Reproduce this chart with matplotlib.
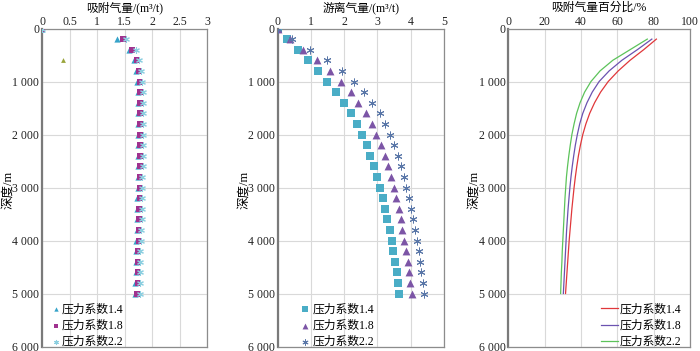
import matplotlib
matplotlib.use("Agg")
import matplotlib.pyplot as plt
from matplotlib.ticker import FuncFormatter, MultipleLocator

plt.rcParams['font.family'] = ['Liberation Serif', 'Noto Sans CJK SC', 'DejaVu Sans']

# ---------------- data ----------------
depth = [0, 200, 400, 600, 800, 1000, 1200, 1400, 1600, 1800, 2000, 2200, 2400,
         2600, 2800, 3000, 3200, 3400, 3600, 3800, 4000, 4200, 4400, 4600, 4800, 5000]

series_labels = ['压力系数1.4', '压力系数1.8', '压力系数2.2']

# adsorbed gas (m3/t)
ads_14 = [0, 1.37, 1.58, 1.67, 1.71, 1.73, 1.74, 1.74, 1.74, 1.75, 1.75, 1.75, 1.74,
          1.74, 1.74, 1.74, 1.73, 1.73, 1.72, 1.72, 1.71, 1.71, 1.70, 1.70, 1.69, 1.69]
ads_18 = [0, 1.47, 1.64, 1.72, 1.76, 1.78, 1.79, 1.79, 1.79, 1.79, 1.79, 1.79, 1.79,
          1.79, 1.78, 1.78, 1.78, 1.77, 1.77, 1.76, 1.76, 1.75, 1.75, 1.74, 1.74, 1.73]
ads_22 = [0, 1.53, 1.70, 1.77, 1.80, 1.82, 1.83, 1.83, 1.83, 1.83, 1.83, 1.83, 1.83,
          1.83, 1.82, 1.82, 1.82, 1.81, 1.81, 1.80, 1.80, 1.79, 1.79, 1.78, 1.78, 1.78]
ads_stray_depth = [600]
ads_stray_value = [0.38]

# free gas (m3/t)
free_14 = [0, 0.27, 0.60, 0.90, 1.20, 1.49, 1.75, 2.00, 2.21, 2.38, 2.54, 2.67, 2.79,
           2.90, 3.00, 3.09, 3.17, 3.23, 3.30, 3.38, 3.43, 3.48, 3.53, 3.58, 3.62, 3.66]
free_18 = [0, 0.37, 0.77, 1.19, 1.56, 1.91, 2.19, 2.42, 2.65, 2.83, 2.97, 3.10, 3.23,
           3.33, 3.42, 3.50, 3.57, 3.64, 3.70, 3.75, 3.80, 3.86, 3.91, 3.95, 3.99, 4.03]
free_22 = [0, 0.44, 0.97, 1.47, 1.92, 2.29, 2.60, 2.85, 3.07, 3.22, 3.38, 3.50, 3.61,
           3.71, 3.79, 3.87, 3.94, 4.00, 4.06, 4.14, 4.20, 4.25, 4.29, 4.32, 4.36, 4.41]

# adsorbed gas percentage (%), depths 200..5000
pct_depth = depth[1:]
pct_14 = [81.5, 74.5, 67.0, 60.5, 55.0, 50.8, 47.5, 44.8, 42.7, 41.0, 39.7, 38.6,
          37.7, 36.9, 36.2, 35.6, 35.0, 34.5, 34.0, 33.5, 33.1, 32.7, 32.3, 31.9, 31.5]
pct_18 = [79.0, 71.0, 62.5, 55.5, 50.0, 46.2, 43.3, 41.0, 39.3, 38.0, 36.9, 36.0,
          35.2, 34.5, 33.9, 33.4, 32.9, 32.5, 32.1, 31.8, 31.5, 31.2, 30.9, 30.6, 30.3]
pct_22 = [76.5, 67.0, 57.5, 50.5, 45.5, 42.0, 39.5, 37.6, 36.2, 35.0, 34.1, 33.3,
          32.6, 32.0, 31.6, 31.2, 30.9, 30.6, 30.3, 30.0, 29.7, 29.5, 29.2, 29.0, 28.8]

titles = ['吸附气量/(m³/t)', '游离气量/(m³/t)', '吸附气量百分比/%']
ylabel = '深度/m'

# ---------------- figure ----------------
fig = plt.figure(figsize=(7.0, 3.51), dpi=100)
H = 351.0
W = 700.0
top_px, bot_px = 28.5, 346.5
boxes = [(42.0, 207.0), (277.7, 444.0), (508.3, 690.0)]
axes = []
for (l, r) in boxes:
    ax = fig.add_axes([l / W, (H - bot_px) / H, (r - l) / W, (bot_px - top_px) / H])
    axes.append(ax)

fmt = FuncFormatter(lambda v, p: ('{:,.0f}'.format(v)).replace(',', ' '))
xlims = [(0, 3), (0, 5), (0, 100)]
xsteps = [0.5, 1, 20]

for i, ax in enumerate(axes):
    ax.set_ylim(6000, 0)
    ax.set_xlim(*xlims[i])
    ax.xaxis.set_major_locator(MultipleLocator(xsteps[i]))
    ax.yaxis.set_major_locator(MultipleLocator(1000))
    ax.yaxis.set_major_formatter(fmt)
    ax.xaxis.set_major_formatter(FuncFormatter(lambda v, p: '{:g}'.format(v)))
    ax.xaxis.tick_top()
    ax.tick_params(axis='both', length=0, labelsize=8.5, colors='#222222')
    ax.tick_params(axis='x', pad=0.5)
    ax.tick_params(axis='y', pad=2)
    ax.grid(True, color='#d9d9d9', lw=0.8)
    ax.set_axisbelow(True)
    for s in ax.spines.values():
        s.set_color('#8c8c8c')
        s.set_linewidth(0.9)
    ax.spines['left'].set_linewidth(1.6)
    ax.spines['left'].set_color('#7a7a7a')
    cx = (boxes[i][0] + boxes[i][1]) / 2 / W
    fig.text(cx, 1 - 8 / H, titles[i], ha='center', va='center', fontsize=8.5)
    fig.text((boxes[i][0] - 34) / W, (H - 190) / H, ylabel, rotation=90,
             ha='center', va='center', fontsize=9)

# panel 1: adsorbed gas
ax = axes[0]
ax.scatter(ads_14, depth, marker='^', s=20, color='#36a3c9', label=series_labels[0], zorder=3, linewidths=0)
ax.scatter(ads_18, depth, marker='s', s=17, color='#a0328f', label=series_labels[1], zorder=4, linewidths=0)
ax.scatter(ads_22, depth, marker=(6, 2, 0), s=18, color='#8ccfe0', label=series_labels[2], zorder=5, linewidths=0.8)
ax.scatter(ads_stray_value, ads_stray_depth, marker='^', s=12, color='#9aa53c', zorder=3, linewidths=0)
ax.legend(loc='lower left', bbox_to_anchor=(0.0, -0.03), frameon=False, fontsize=8.5,
          handletextpad=0.0, labelspacing=0.35, borderaxespad=0.3, handlelength=1.0,
          markerscale=0.7)

# panel 2: free gas
ax = axes[1]
ax.scatter(free_14, depth, marker='s', s=26, color='#4aadc6', label=series_labels[0], zorder=3, linewidths=0)
ax.scatter(free_18, depth, marker='^', s=32, color='#7c55a6', label=series_labels[1], zorder=3, linewidths=0)
ax.scatter(free_22, depth, marker=(6, 2, 0), s=26, color='#5a77a8', label=series_labels[2], zorder=3, linewidths=0.7)
ax.legend(loc='lower left', bbox_to_anchor=(0.08, -0.03), frameon=False, fontsize=8.5,
          handletextpad=0.1, labelspacing=0.35, borderaxespad=0.3, handlelength=1.0,
          markerscale=0.75)

# panel 3: adsorbed percentage
ax = axes[2]
ax.plot(pct_14, pct_depth, color='#e0373a', lw=0.9, label=series_labels[0])
ax.plot(pct_18, pct_depth, color='#6b52b0', lw=0.9, label=series_labels[1])
ax.plot(pct_22, pct_depth, color='#5cc35a', lw=0.9, label=series_labels[2])
ax.legend(loc='lower right', bbox_to_anchor=(1.0, -0.03), frameon=False, fontsize=8.5,
          handletextpad=0.2, labelspacing=0.35, borderaxespad=0.3, handlelength=1.4)

fig.savefig('out.png', dpi=100)
